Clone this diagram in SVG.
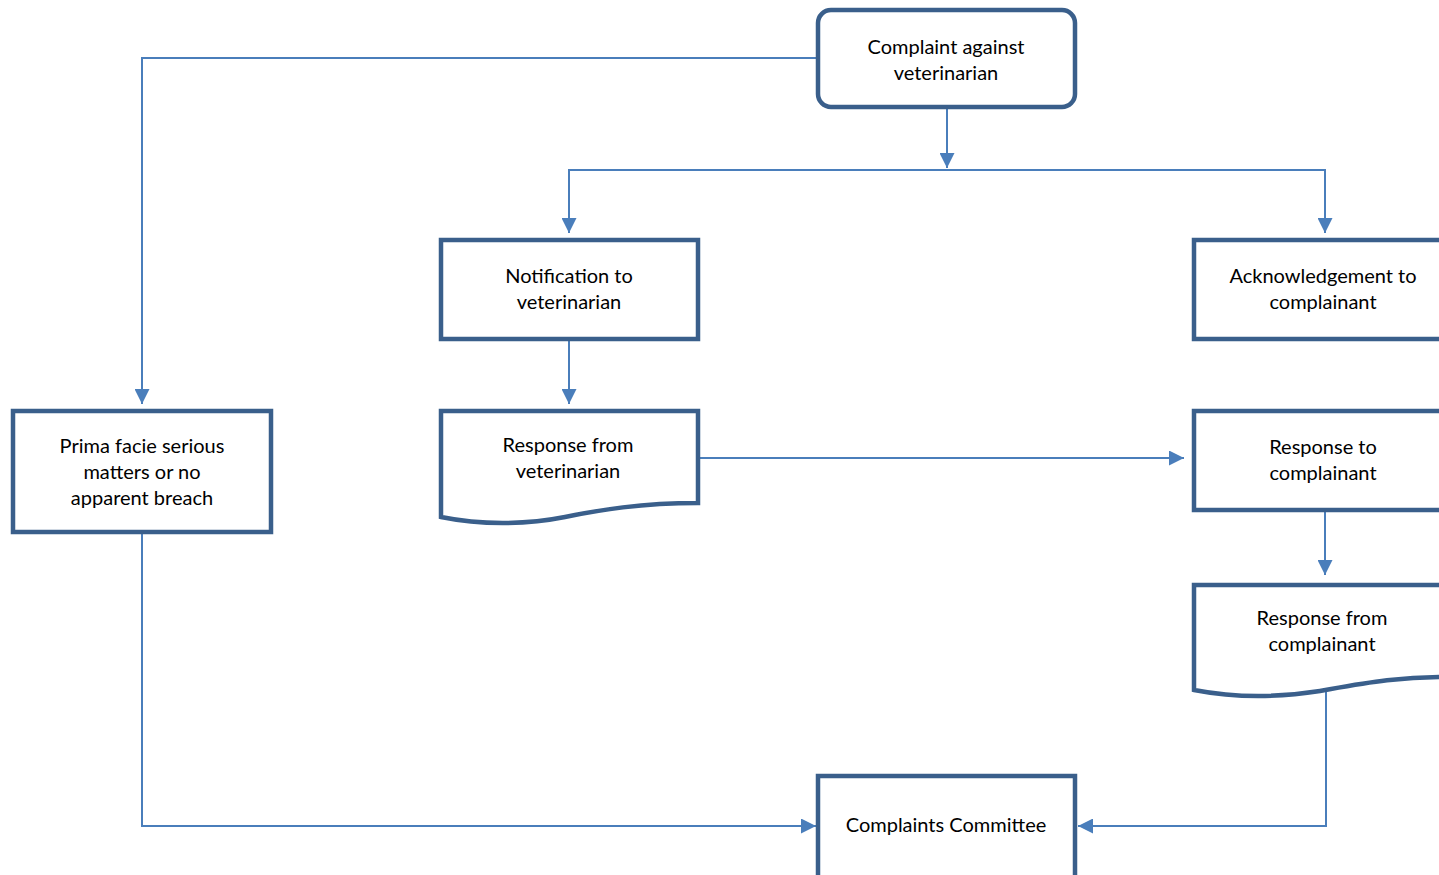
<svg xmlns="http://www.w3.org/2000/svg" width="1439" height="875" viewBox="0 0 1439 875">
<style>
.box{fill:#fff;stroke:#3A5F8B;stroke-width:4.5}
.t{font-family:Lato,"Liberation Sans",sans-serif;font-size:20px;fill:#000;text-anchor:middle}
.c{fill:none;stroke:#4A7EBB;stroke-width:2}
</style>
<defs>
<marker id="ah" markerWidth="15" markerHeight="15" refX="15" refY="7.5" orient="auto" markerUnits="userSpaceOnUse">
<path d="M0,0 L15,7.5 L0,15 Z" fill="#4A7EBB"/>
</marker>
</defs>
<rect width="1439" height="875" fill="#fff"/>
<g id="connectors">
<path class="c" d="M818,58 H142 V404" marker-end="url(#ah)"/>
<path class="c" d="M947,108 V168" marker-end="url(#ah)"/>
<path class="c" d="M569,233 V170 H1325 V233" />
<path class="c" d="M569,171 V233" marker-end="url(#ah)"/>
<path class="c" d="M1325,171 V233" marker-end="url(#ah)"/>
<path class="c" d="M569,340 V404" marker-end="url(#ah)"/>
<path class="c" d="M700,458 H1184" marker-end="url(#ah)"/>
<path class="c" d="M1325,511 V575" marker-end="url(#ah)"/>
<path class="c" d="M1326,692 V826 H1078" marker-end="url(#ah)"/>
<path class="c" d="M142,533 V826 H816" marker-end="url(#ah)"/>
</g>
<g id="complaint">
<rect class="box" x="818" y="10" width="257" height="97" rx="13"/>
<text class="t" x="946" y="54">Complaint against</text>
<text class="t" x="946" y="80">veterinarian</text>
</g>
<g id="notification">
<rect class="box" x="441" y="240" width="257" height="99"/>
<text class="t" x="569" y="283">Notification to</text>
<text class="t" x="569" y="309">veterinarian</text>
</g>
<g id="acknowledgement">
<rect class="box" x="1194" y="240" width="260" height="99"/>
<text class="t" x="1323" y="283">Acknowledgement to</text>
<text class="t" x="1323" y="309">complainant</text>
</g>
<g id="prima">
<rect class="box" x="13" y="411" width="258" height="121"/>
<text class="t" x="142" y="453">Prima facie serious</text>
<text class="t" x="142" y="479">matters or no</text>
<text class="t" x="142" y="505">apparent breach</text>
</g>
<g id="response-vet">
<path class="box" d="M441,411 H698 V503 C640,503 600,510 565,517 C525,525 480,525 441,517 Z"/>
<text class="t" x="568" y="452">Response from</text>
<text class="t" x="568" y="478">veterinarian</text>
</g>
<g id="response-to">
<rect class="box" x="1194" y="411" width="260" height="99"/>
<text class="t" x="1323" y="454">Response to</text>
<text class="t" x="1323" y="480">complainant</text>
</g>
<g id="response-from">
<path class="box" d="M1194,585 H1454 V677 C1400,676 1360,684 1320,691 C1270,699 1230,697 1194,690 Z"/>
<text class="t" x="1322" y="625">Response from</text>
<text class="t" x="1322" y="651">complainant</text>
</g>
<g id="committee">
<rect class="box" x="818" y="776" width="257" height="110"/>
<text class="t" x="946" y="832">Complaints Committee</text>
</g>
</svg>
